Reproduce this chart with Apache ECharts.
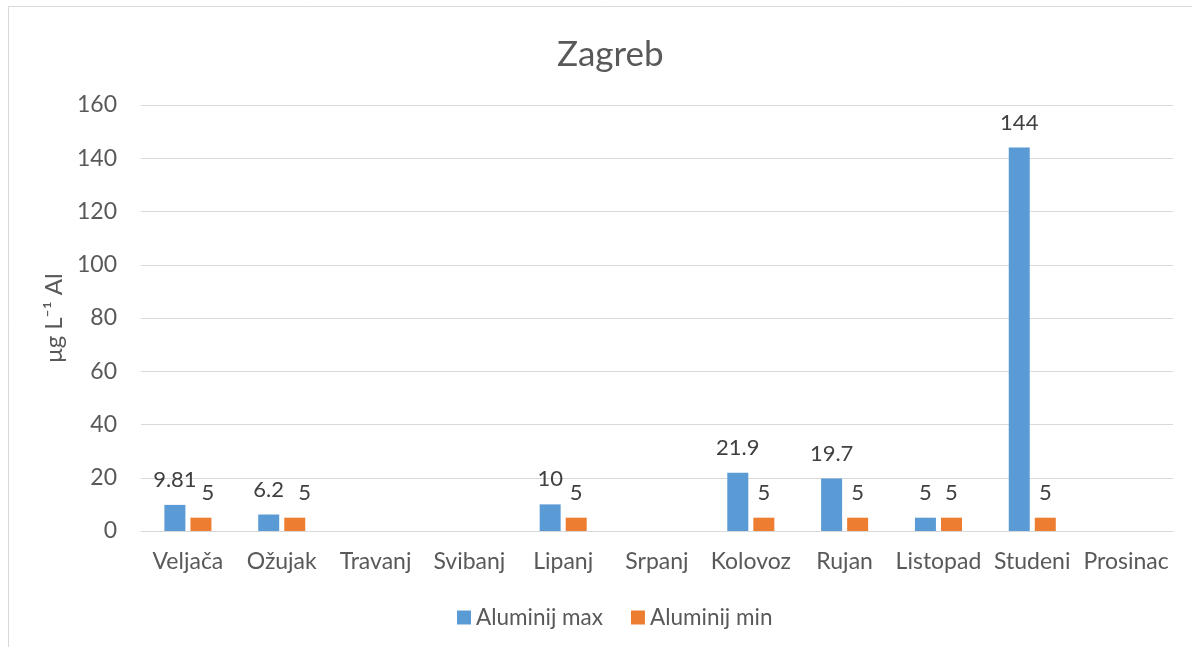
<!DOCTYPE html>
<html>
<head>
<meta charset="utf-8">
<script src="https://cdn.jsdelivr.net/npm/echarts@6/dist/echarts.min.js"></script>
<style>
  html, body { margin: 0; padding: 0; background: #fff; overflow: hidden; }
  #chart { width: 1192px; height: 647px; }
</style>
</head>
<body>
<div id="chart"></div>
<script>
// podaci
var months = ["Veljača", "Ožujak", "Travanj", "Svibanj", "Lipanj", "Srpanj", "Kolovoz", "Rujan", "Listopad", "Studeni", "Prosinac"];
var alMax = [9.81, 6.2, null, null, 10, null, 21.9, 19.7, 5, 144, null];
var alMin = [5, 5, null, null, 5, null, 5, 5, 5, 5, null];
var yTicks = [0, 20, 40, 60, 80, 100, 120, 140, 160];

(function () {
  var myChart = echarts.init(document.getElementById("chart"));
  var font = "Lato, 'Open Sans', sans-serif";
  var txt = "#595959";
  var grey = "#D9D9D9";

  var barLabel = {
    show: true,
    position: "top",
    distance: 14,
    color: "#404040",
    fontSize: 22,
    fontFamily: font
  };

  // Excel pomakne oznake "5" udesno gdje bi se preklopile s lijevom oznakom
  var nudge = { 0: 7, 1: 10 };
  var minData = alMin.map(function (v, i) {
    if (nudge[i] === undefined) return v;
    return { value: v, label: { offset: [nudge[i], 0] } };
  });

  var option = {
    backgroundColor: "#fff",
    textStyle: { fontFamily: font, color: txt },
    title: {
      text: "Zagreb",
      left: 552,
      top: 32,
      textStyle: { fontSize: 35, fontWeight: "normal", color: txt, fontFamily: font }
    },
    // okvir grafikona (samo lijevo i gore se vidi)
    graphic: [
      { type: "line", shape: { x1: 8.5, y1: 6.5, x2: 8.5, y2: 647 }, style: { stroke: grey, lineWidth: 1 } },
      { type: "line", shape: { x1: 8.5, y1: 6.5, x2: 1192, y2: 6.5 }, style: { stroke: grey, lineWidth: 1 } }
    ],
    legend: {
      data: ["Aluminij max", "Aluminij min"],
      top: 601,
      left: 452,
      itemWidth: 14,
      itemHeight: 14,
      itemGap: 28,
      icon: "rect",
      textStyle: { fontSize: 22.5, color: txt, fontFamily: font }
    },
    grid: {
      left: 141,
      right: 19,
      top: 105,
      bottom: 116,
      containLabel: false
    },
    xAxis: {
      type: "category",
      data: months,
      axisLine: { lineStyle: { color: grey, width: 1 } },
      axisTick: { show: false },
      axisLabel: { color: txt, fontSize: 23, margin: 19, fontFamily: font, interval: 0 }
    },
    yAxis: {
      type: "value",
      min: yTicks[0],
      max: yTicks[yTicks.length - 1],
      interval: yTicks[1] - yTicks[0],
      name: "μg L⁻¹ Al",
      nameLocation: "middle",
      nameGap: 66,
      nameTextStyle: { fontSize: 24, color: txt, fontFamily: font },
      axisLine: { show: false },
      axisTick: { show: false },
      axisLabel: { color: txt, fontSize: 23, margin: 24, fontFamily: font },
      splitLine: { lineStyle: { color: grey, width: 1 } }
    },
    series: [
      {
        name: "Aluminij max",
        type: "bar",
        data: alMax,
        barWidth: 21,
        barGap: "24%",
        itemStyle: { color: "#5B9BD5" },
        label: barLabel
      },
      {
        name: "Aluminij min",
        type: "bar",
        data: minData,
        barWidth: 21,
        barGap: "24%",
        itemStyle: { color: "#ED7D31" },
        label: barLabel
      }
    ]
  };

  myChart.setOption(option);
  window.addEventListener("resize", function () {
    myChart.resize();
  });
})();
</script>
</body>
</html>
